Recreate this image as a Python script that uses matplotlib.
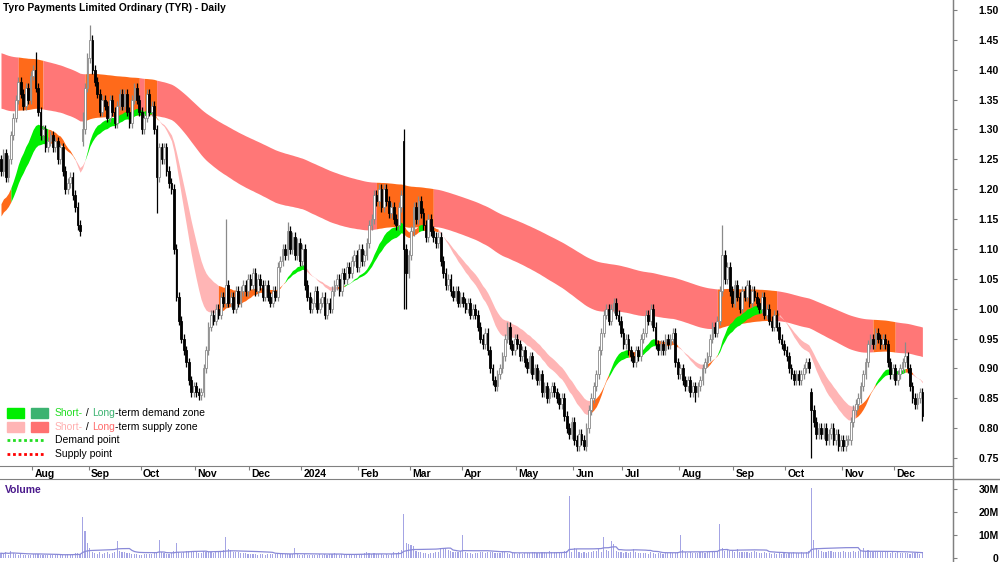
import numpy as np
import pandas as pd
import matplotlib
matplotlib.use('Agg')
import matplotlib.pyplot as plt
from matplotlib.patches import Rectangle
from matplotlib.lines import Line2D
import matplotlib.transforms as mtransforms

plt.rcParams['font.family'] = ['Liberation Sans', 'DejaVu Sans']

# daily closes, TYR, 13 Jul 2023 -> 17 Dec 2024
close = [
    1.23, 1.26, 1.22, 1.25, 1.29, 1.32, 1.35, 1.38, 1.36, 1.34,
    1.37, 1.35, 1.39, 1.40, 1.37, 1.33, 1.29, 1.30, 1.27, 1.28,
    1.29, 1.27, 1.28, 1.25, 1.27, 1.23, 1.20, 1.21, 1.22, 1.19,
    1.17, 1.14, 1.13, 1.30, 1.37, 1.42, 1.45, 1.40, 1.38, 1.36,
    1.33, 1.35, 1.34, 1.32, 1.35, 1.33, 1.31, 1.34, 1.36, 1.34,
    1.36, 1.33, 1.31, 1.35, 1.37, 1.35, 1.33, 1.30, 1.32, 1.36,
    1.33, 1.34, 1.30, 1.22, 1.27, 1.25, 1.27, 1.23, 1.21, 1.20,
    1.10, 1.02, 0.98, 0.95, 0.93, 0.91, 0.88, 0.86, 0.87, 0.86,
    0.855, 0.86, 0.90, 0.93, 0.97, 0.99, 0.98, 1.00, 0.99, 1.02,
    1.01, 1.04, 1.01, 1.02, 1.00, 1.03, 1.01, 1.03, 1.04, 1.03,
    1.05, 1.04, 1.06, 1.03, 1.05, 1.04, 1.02, 1.04, 1.02, 1.01,
    1.03, 1.02, 1.07, 1.08, 1.10, 1.09, 1.13, 1.10, 1.12, 1.09,
    1.11, 1.08, 1.10, 1.04, 1.02, 1.00, 1.01, 1.03, 1.00, 1.01,
    1.02, 0.99, 1.01, 1.00, 1.03, 1.04, 1.05, 1.03, 1.06, 1.05,
    1.07, 1.06, 1.08, 1.09, 1.07, 1.10, 1.08, 1.09, 1.11, 1.14,
    1.15, 1.19, 1.18, 1.20, 1.17, 1.20, 1.18, 1.16, 1.17, 1.15,
    1.14, 1.17, 1.19, 1.10, 1.06, 1.09, 1.13, 1.17, 1.15, 1.18,
    1.16, 1.14, 1.12, 1.15, 1.13, 1.12, 1.11, 1.12, 1.08, 1.06,
    1.04, 1.05, 1.03, 1.02, 1.03, 1.01, 1.02, 1.01, 1.00, 1.01,
    0.99, 1.00, 0.99, 0.97, 0.95, 0.94, 0.96, 0.93, 0.90, 0.88,
    0.87, 0.89, 0.90, 0.92, 0.95, 0.97, 0.94, 0.93, 0.95, 0.94,
    0.92, 0.93, 0.91, 0.90, 0.92, 0.89, 0.90, 0.88, 0.89, 0.86,
    0.87, 0.85, 0.86, 0.87, 0.86, 0.85, 0.84, 0.85, 0.82, 0.80,
    0.79, 0.81, 0.78, 0.77, 0.79, 0.78, 0.77, 0.80, 0.83, 0.85,
    0.87, 0.89, 0.93, 0.96, 0.99, 1.00, 0.98, 1.00, 1.01, 0.99,
    0.98, 0.96, 0.94, 0.95, 0.93, 0.92, 0.91, 0.93, 0.92, 0.95,
    0.96, 0.99, 0.98, 1.00, 0.97, 0.94, 0.93, 0.94, 0.93, 0.95,
    0.94, 0.95, 0.96, 0.91, 0.89, 0.90, 0.88, 0.87, 0.88, 0.86,
    0.87, 0.86, 0.87, 0.88, 0.90, 0.91, 0.92, 0.95, 0.97, 0.96,
    0.98, 1.03, 1.09, 1.05, 1.07, 1.03, 1.01, 1.04, 1.02, 1.00,
    1.03, 1.02, 1.04, 1.01, 1.03, 1.02, 1.01, 1.00, 1.02, 0.99,
    1.00, 0.98, 0.97, 0.99, 0.97, 0.95, 0.94, 0.93, 0.92, 0.90,
    0.89, 0.88, 0.89, 0.88, 0.89, 0.90, 0.91, 0.90, 0.83, 0.81,
    0.79, 0.80, 0.79, 0.80, 0.78, 0.79, 0.80, 0.78, 0.79, 0.77,
    0.78, 0.77, 0.78, 0.78, 0.81, 0.83, 0.84, 0.85, 0.87, 0.89,
    0.91, 0.94, 0.95, 0.94, 0.96, 0.95, 0.94, 0.95, 0.94, 0.91,
    0.89, 0.90, 0.88, 0.89, 0.90, 0.91, 0.92, 0.90, 0.87, 0.85,
    0.84, 0.85, 0.86, 0.82,
]

# daily volume, millions of shares
volume = [
    2.1, 1.8, 2.6, 1.5, 2.9, 2.2, 1.7, 1.4, 1.6, 1.3,
    1.5, 1.2, 1.4, 1.6, 1.9, 1.7, 1.3, 1.2, 1.4, 1.5,
    1.3, 1.1, 1.4, 1.6, 1.2, 1.3, 1.5, 1.8, 1.4, 1.9,
    2.2, 2.0, 1.8, 17.6, 11.6, 6.4, 4.3, 2.6, 2.1, 1.9,
    2.4, 1.8, 2.2, 2.6, 1.9, 2.3, 2.8, 7.3, 2.9, 2.5,
    2.6, 2.3, 2.0, 1.8, 1.6, 1.7, 1.5, 1.4, 1.6, 1.8,
    1.7, 1.9, 2.2, 2.6, 8.0, 2.4, 2.1, 1.8, 1.9, 2.3,
    2.9, 6.4, 2.6, 2.2, 2.8, 3.2, 3.0, 2.7, 2.5, 2.4,
    2.1, 2.3, 3.1, 2.8, 2.5, 2.7, 2.3, 2.6, 3.0, 2.8,
    3.4, 9.0, 4.0, 3.3, 2.8, 2.6, 2.4, 2.2, 2.0, 2.1,
    1.8, 1.6, 1.9, 1.7, 1.5, 1.8, 1.6, 1.4, 1.7, 1.9,
    1.6, 1.8, 2.1, 1.9, 2.0, 1.7, 1.8, 1.6, 1.9, 4.3,
    1.7, 1.5, 1.3, 1.6, 1.4, 1.2, 1.5, 1.3, 1.4, 1.6,
    1.5, 1.8, 1.4, 1.6, 1.9, 2.1, 1.7, 1.5, 1.8, 1.6,
    1.4, 1.5, 1.3, 1.6, 1.7, 1.5, 1.8, 2.2, 2.6, 2.0,
    1.8, 2.3, 1.9, 1.7, 1.6, 1.5, 1.8, 1.4, 1.9, 2.4,
    2.1, 2.8, 3.4, 19.0, 6.4, 6.2, 5.5, 5.0, 3.2, 2.6,
    2.4, 2.1, 2.3, 1.9, 2.0, 2.2, 2.5, 2.8, 4.5, 4.0,
    4.5, 3.6, 3.0, 2.7, 2.4, 2.6, 2.9, 10.0, 2.8, 2.3,
    2.1, 1.9, 2.3, 2.0, 2.4, 2.6, 2.2, 2.5, 2.8, 2.4,
    2.2, 2.0, 2.3, 2.6, 2.4, 2.1, 1.9, 2.2, 2.0, 1.8,
    2.1, 1.9, 2.3, 2.0, 2.2, 2.5, 2.7, 2.3, 2.1, 2.4,
    2.6, 2.2, 3.0, 2.4, 2.7, 2.5, 2.8, 2.6, 3.1, 2.9,
    27.0, 2.8, 4.5, 3.8, 2.6, 2.2, 2.4, 2.0, 2.7, 2.5,
    2.9, 3.2, 4.0, 2.8, 9.0, 3.5, 3.0, 7.3, 6.0, 2.9,
    2.6, 2.4, 2.2, 2.5, 2.3, 2.7, 4.0, 2.4, 2.1, 2.3,
    2.0, 2.2, 1.9, 2.4, 2.1, 1.8, 2.0, 2.3, 1.9, 2.1,
    2.2, 2.4, 2.0, 2.3, 2.6, 10.0, 3.5, 2.5, 2.2, 2.4,
    2.1, 2.3, 2.0, 2.5, 2.4, 2.2, 2.6, 2.8, 2.5, 2.7,
    3.0, 14.6, 4.5, 3.2, 4.0, 2.9, 3.1, 2.6, 4.0, 2.8,
    2.5, 2.7, 2.4, 2.2, 2.6, 2.9, 2.5, 2.3, 2.1, 2.4,
    2.0, 2.2, 1.9, 2.1, 1.8, 2.0, 1.7, 2.2, 1.9, 2.3,
    2.1, 2.4, 2.0, 2.2, 2.5, 2.3, 2.8, 3.2, 30.5, 7.7,
    4.4, 3.4, 3.0, 2.8, 2.6, 2.9, 3.1, 2.7, 2.5, 2.8,
    2.6, 2.9, 2.7, 2.5, 2.8, 3.0, 2.6, 2.9, 3.2, 4.3,
    3.0, 3.5, 2.8, 2.6, 3.0, 2.7, 2.5, 2.8, 2.4, 2.6,
    2.3, 2.5, 2.2, 2.4, 2.1, 2.3, 2.0, 2.2, 1.9, 2.1,
    2.0, 2.3, 1.8, 2.4,
]

# days that opened away from the prior close
gap_open = {0: 1.25, 33: 1.28, 163: 1.28, 328: 0.86}
# the long wicks
big_high = {14: 1.43, 33: 1.33, 36: 1.475, 91: 1.15, 116: 1.145, 163: 1.30, 292: 1.14, 366: 0.944}
big_low = {63: 1.16, 163: 1.00, 164: 1.00, 236: 0.763, 281: 0.843, 328: 0.75}
wick_pad = 0.008

# zone state changes (date, state)
short_zone = [('2023-07-13', 'mix'), ('2023-07-19', 'demand'), ('2023-08-09', 'mix'),
              ('2023-08-24', 'supply'), ('2023-08-30', 'demand'), ('2023-10-09', 'mix'),
              ('2023-10-11', 'supply'), ('2023-11-14', 'mix'), ('2023-12-21', 'demand'),
              ('2024-01-02', 'supply'), ('2024-01-19', 'mix'), ('2024-01-24', 'demand'),
              ('2024-02-27', 'mix'), ('2024-03-06', 'demand'), ('2024-03-08', 'mix'),
              ('2024-03-18', 'supply'), ('2024-06-12', 'mix'), ('2024-06-21', 'demand'),
              ('2024-07-03', 'mix'), ('2024-07-09', 'demand'), ('2024-07-18', 'mix'),
              ('2024-07-31', 'supply'), ('2024-08-15', 'mix'), ('2024-08-22', 'demand'),
              ('2024-09-18', 'mix'), ('2024-09-26', 'supply'), ('2024-11-08', 'mix'),
              ('2024-11-20', 'demand'), ('2024-12-06', 'mix'), ('2024-12-11', 'supply')]
long_zone = [('2023-07-13', 'supply'), ('2023-07-24', 'mix'), ('2023-08-07', 'supply'),
             ('2023-08-30', 'mix'), ('2023-09-29', 'supply'), ('2023-10-03', 'mix'),
             ('2023-10-10', 'supply'), ('2024-02-12', 'mix'), ('2024-03-14', 'supply'),
             ('2024-08-22', 'mix'), ('2024-09-25', 'supply'), ('2024-11-19', 'mix'),
             ('2024-12-02', 'supply')]

short_colors = {'demand': '#00EE00', 'supply': '#FFB5B5', 'mix': '#FF6A1A'}
long_colors = {'supply': '#FF7777', 'mix': '#FF6A1A'}

dates = pd.bdate_range('2023-07-13', periods=len(close))
x = np.arange(len(close))
c = np.array(close)
o = np.r_[c[0], c[:-1]]
for k, v in gap_open.items():
    o[k] = v
hi = np.maximum(o, c) + wick_pad
lo = np.minimum(o, c) - wick_pad
for k, v in big_high.items():
    hi[k] = v
for k, v in big_low.items():
    lo[k] = v


def ema(vals, span, seed):
    s = pd.Series(np.r_[seed, vals])
    return s.ewm(span=span, adjust=False).mean().to_numpy()[1:]


# short- and long-term zones from moving averages of the close
s_fast = ema(c, 20, 1.17)
s_slow = ema(c, 30, 1.15)
l_fast = ema(c, 150, 1.337)
l_slow = ema(c, 250, 1.43)


def fill_zone(ax, a, b, changes, colors, z):
    starts = [int(dates.searchsorted(pd.Timestamp(d))) for d, _ in changes] + [len(x) - 1]
    for j, (_, state) in enumerate(changes):
        sl = slice(starts[j], starts[j + 1] + 1)
        ax.fill_between(x[sl], np.minimum(a, b)[sl], np.maximum(a, b)[sl],
                        color=colors[state], lw=0, zorder=z)


fig = plt.figure(figsize=(10, 5.62), dpi=100)
ax = fig.add_axes([0, 1 - 466 / 562, 0.953, 466 / 562])
axv = fig.add_axes([0, 0, 0.953, 83 / 562])

fill_zone(ax, l_fast, l_slow, long_zone, long_colors, 1)
fill_zone(ax, s_fast, s_slow, short_zone, short_colors, 2)

up = c >= o
edge = np.where(up, '#8A8A8A', '#000000')
face = np.where(up, '#FFFFFF', '#000000')
ax.vlines(x, lo, hi, colors=edge, lw=0.9, zorder=3)
ax.bar(x, np.maximum(np.abs(c - o), 0.002), bottom=np.minimum(o, c), width=0.7,
       color=face, edgecolor=edge, linewidth=0.6, zorder=4)

ax.set_xlim(-0.4, 385.4)
ax.set_ylim(0.7366, 1.5167)
yt = np.arange(0.75, 1.501, 0.05)
ax.yaxis.tick_right()
ax.set_yticks(yt)
ax.set_yticklabels([f'{t:.2f}' for t in yt])
ax.tick_params(axis='y', direction='out', length=3, color='#808080', pad=30,
               labelsize=7.5)
for lab in ax.get_yticklabels():
    lab.set_ha('right')
    lab.set_fontweight('bold')

# month ticks, label just right of each tick
month_idx = []
month_lab = []
prev = None
for i, d in enumerate(dates):
    if prev is not None and d.month != prev:
        month_idx.append(i)
        month_lab.append('2024' if d.month == 1 else d.strftime('%b'))
    prev = d.month
ax.set_xticks(np.array(month_idx) - 0.5)
ax.set_xticklabels([])
ax.tick_params(axis='x', direction='out', length=3, color='#808080')
bt = mtransforms.blended_transform_factory(ax.transData, ax.transAxes)
for i, lab in zip(month_idx, month_lab):
    ax.text(i + 0.5, -8 / 466, lab, transform=bt, ha='left', va='center',
            fontsize=7.5, fontweight='bold', clip_on=False)

for sp in ['top', 'left']:
    ax.spines[sp].set_visible(False)
ax.spines['bottom'].set_color('#808080')
ax.spines['right'].set_color('#808080')

# volume
axv.bar(x, volume, width=0.45, color='#A4A4E4', zorder=2)
vma = pd.Series(volume).rolling(20, min_periods=1).mean()
axv.plot(x, vma, color='#8A8AD8', lw=0.9, zorder=3)
axv.set_xlim(-0.4, 385.4)
axv.set_ylim(-1.74, 34.3)
axv.yaxis.tick_right()
axv.set_yticks([0, 10, 20, 30])
axv.set_yticklabels(['0', '10M', '20M', '30M'])
axv.set_xticks([])
axv.tick_params(axis='y', direction='out', length=3, color='#808080', pad=30,
                labelsize=7.5)
for lab in axv.get_yticklabels():
    lab.set_ha('right')
    lab.set_fontweight('bold')
for sp in ['bottom', 'left']:
    axv.spines[sp].set_visible(False)
axv.spines['top'].set_color('#808080')
axv.spines['right'].set_color('#808080')
axv.text(5 / 953, (562 - 490) / 83, 'Volume', transform=axv.transAxes,
         color='#4B1A8C', fontsize=7.5, fontweight='bold', va='center')

fig.add_artist(Line2D([0.953, 0.953], [0, 1], color='#808080', lw=1))
fig.add_artist(Line2D([0.953, 1], [83 / 562, 83 / 562], color='#808080', lw=1))

fig.text(0.003, 1 - 8 / 562, 'Tyro Payments Limited Ordinary (TYR) - Daily',
         fontsize=7.4, fontweight='bold', va='center', ha='left')


# legend, drawn by hand in pixel positions
def fx(px):
    return px / 1000


def fy(py):
    return 1 - py / 562


def rich_text(x0, y0, parts):
    t = fig.text(fx(x0), fy(y0), parts[0][0], color=parts[0][1], fontsize=7.5,
                 va='center', ha='left')
    for s, col in parts[1:]:
        t = ax.annotate(s, xy=(1, 0), xycoords=t, va='bottom', ha='left',
                        color=col, fontsize=7.5, annotation_clip=False)


for (x0, y0, col) in [(7, 408, '#00EE00'), (31, 408, '#3CB371'),
                      (7, 422, '#FFB5B5'), (31, 422, '#FF7070')]:
    fig.add_artist(Rectangle((fx(x0), fy(y0 + 10)), fx(17), 10 / 562, color=col,
                             transform=fig.transFigure))
fig.add_artist(Line2D([fx(7), fx(44)], [fy(440), fy(440)], color='#22DD22', lw=2,
                      linestyle=(0, (1, 1))))
fig.add_artist(Line2D([fx(7), fx(44)], [fy(454), fy(454)], color='#FF0000', lw=2,
                      linestyle=(0, (1, 1))))
rich_text(55, 413, [('Short-', '#22DD22'), (' / ', 'black'), ('Long', '#3CB371'),
                    ('-term demand zone', 'black')])
rich_text(55, 427, [('Short-', '#FFB0B0'), (' / ', 'black'), ('Long', '#FF6B6B'),
                    ('-term supply zone', 'black')])
fig.text(fx(55), fy(440), 'Demand point', fontsize=7.5, va='center', ha='left')
fig.text(fx(55), fy(454), 'Supply point', fontsize=7.5, va='center', ha='left')

fig.savefig('out.png', dpi=100)
